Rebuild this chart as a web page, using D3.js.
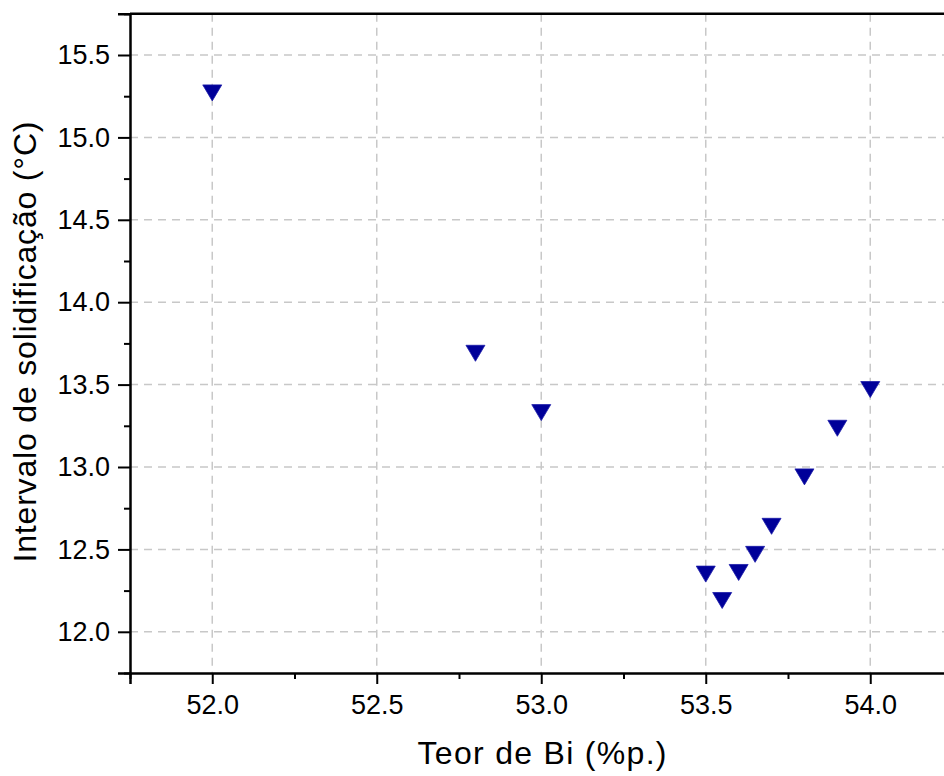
<!DOCTYPE html>
<html>
<head>
<meta charset="utf-8">
<script src="https://cdn.jsdelivr.net/npm/d3@7"></script>
<style>
  body { margin: 0; background: #fff; }
  svg { display: block; }
  text { font-family: "Liberation Sans", Arial, sans-serif; fill: #000; }
</style>
</head>
<body>
<svg id="chart" width="944" height="776"></svg>
<script>
// Bi content (wt.%) vs solidification interval (°C)
const teorBi = [52.0, 52.8, 53.0, 53.5, 53.55, 53.6, 53.65, 53.7, 53.8, 53.9, 54.0];
const intervalo = [15.27, 13.69, 13.33, 12.35, 12.19, 12.36, 12.47, 12.64, 12.94, 13.235, 13.47];

const xTicks = [52.0, 52.5, 53.0, 53.5, 54.0];
const yTicks = [12.0, 12.5, 13.0, 13.5, 14.0, 14.5, 15.0, 15.5];

const marginLeft = 130, marginBottom = 673;

const svg = d3.select("#chart");

const x = d3.scaleLinear().domain([51.75, 54.25]).range([marginLeft, marginLeft + 2.5 * 329]);
const y = d3.scaleLinear().domain([11.75, 15.75]).range([marginBottom, marginBottom - 4 * 164.8]);

const plotTop = y(15.75), plotRight = x(54.25);

// grid
const grid = svg.append("g")
  .attr("stroke", "#c8c8c8")
  .attr("stroke-width", 1.5)
  .attr("stroke-dasharray", "8,6");

grid.selectAll(".gx").data(xTicks).enter().append("line")
  .attr("x1", d => x(d)).attr("x2", d => x(d))
  .attr("y1", plotTop).attr("y2", marginBottom);

grid.selectAll(".gy").data(yTicks).enter().append("line")
  .attr("x1", marginLeft).attr("x2", plotRight)
  .attr("y1", d => y(d)).attr("y2", d => y(d));

// axes
const xMinor = d3.range(51.75, 54.26, 0.25).filter(v => !xTicks.some(t => Math.abs(t - v) < 1e-6));
const yMinor = d3.range(11.75, 15.76, 0.25).filter(v => !yTicks.some(t => Math.abs(t - v) < 1e-6));

svg.append("g")
  .attr("transform", `translate(0,${marginBottom})`)
  .call(d3.axisBottom(x).tickValues(xTicks).tickFormat(d3.format(".1f")).tickSize(11).tickPadding(11));

svg.append("g")
  .attr("transform", `translate(0,${marginBottom})`)
  .call(d3.axisBottom(x).tickValues(xMinor).tickFormat("").tickSize(6))
  .call(g => g.select(".domain").remove());

svg.append("g")
  .attr("transform", `translate(${marginLeft},0)`)
  .call(d3.axisLeft(y).tickValues(yTicks).tickFormat(d3.format(".1f")).tickSize(12).tickPadding(8));

svg.append("g")
  .attr("transform", `translate(${marginLeft},0)`)
  .call(d3.axisLeft(y).tickValues(yMinor).tickFormat("").tickSize(6))
  .call(g => g.select(".domain").remove());

svg.selectAll(".domain").attr("stroke", "#000").attr("stroke-width", 2.5);
svg.selectAll(".tick line").attr("stroke", "#000").attr("stroke-width", 2);
svg.selectAll(".tick text")
  .style("font-family", "'Liberation Sans', Arial, sans-serif")
  .style("font-size", "27px")
  .attr("fill", "#000");

// top border
svg.append("line")
  .attr("x1", marginLeft).attr("x2", plotRight)
  .attr("y1", plotTop).attr("y2", plotTop)
  .attr("stroke", "#000").attr("stroke-width", 2.5);

// markers: down triangles
const tri = "M-9.5,-8L9.5,-8L0,8Z";
svg.append("g").selectAll("path")
  .data(teorBi.map((v, i) => [v, intervalo[i]]))
  .enter().append("path")
  .attr("d", tri)
  .attr("transform", d => `translate(${x(d[0])},${y(d[1])})`)
  .attr("fill", "#000099")
  .attr("stroke", "#1a1aa8")
  .attr("stroke-width", 0.8);

// axis titles
svg.append("text")
  .attr("x", 542).attr("y", 764)
  .attr("text-anchor", "middle")
  .attr("textLength", 249)
  .style("font-size", "32px")
  .text("Teor de Bi (%p.)");

svg.append("text")
  .attr("transform", "translate(36,342) rotate(-90)")
  .attr("text-anchor", "middle")
  .attr("textLength", 441)
  .style("font-size", "32px")
  .text("Intervalo de solidificação (°C)");
</script>
</body>
</html>
